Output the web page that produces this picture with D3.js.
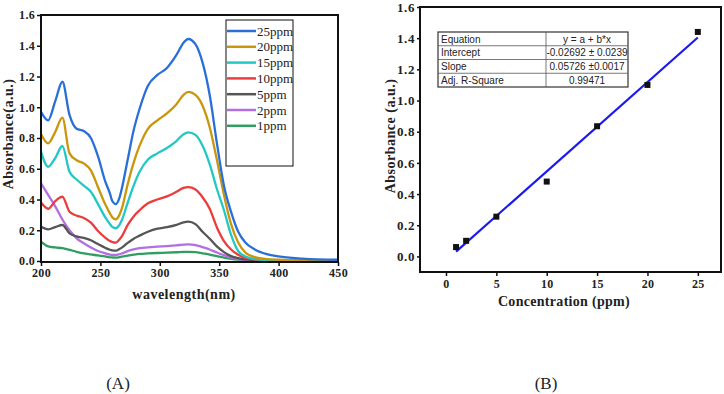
<!DOCTYPE html>
<html><head><meta charset="utf-8">
<script src="https://cdn.jsdelivr.net/npm/d3@7"></script>
<style>
body{margin:0;background:#fff;}
svg{display:block;}
.tk{font-family:"Liberation Serif","Times New Roman",serif;font-weight:bold;fill:#222;}
.tt{font-family:"Liberation Serif","Times New Roman",serif;font-weight:bold;fill:#222;}
</style>
</head><body>
<svg id="c" width="724" height="394"></svg>
<script>
// ---- Data: panel A (UV-Vis spectra) ----
const wavelengths = [200,206,212,218,224,230,236,242,248,254,258,260,263,266,268,273,278,283,290,298,306,314,320,324,330,336,342,348,354,360,366,372,380,390,400,420,450];
const abs25 = [0.97,0.915,1.04,1.166,0.95,0.86,0.845,0.80,0.68,0.52,0.44,0.39,0.37,0.41,0.47,0.66,0.85,0.99,1.14,1.21,1.255,1.34,1.42,1.444,1.41,1.29,1.08,0.77,0.49,0.32,0.19,0.12,0.075,0.045,0.03,0.016,0.008];
const abs20 = [0.826,0.765,0.84,0.932,0.70,0.655,0.635,0.59,0.48,0.37,0.31,0.285,0.271,0.30,0.34,0.50,0.64,0.75,0.86,0.915,0.96,1.02,1.08,1.10,1.08,1.01,0.87,0.66,0.43,0.24,0.12,0.055,0.025,0.012,0.008,0.005,0.004];
const abs15 = [0.711,0.613,0.67,0.748,0.58,0.53,0.49,0.45,0.37,0.285,0.24,0.222,0.213,0.235,0.265,0.38,0.49,0.58,0.66,0.70,0.735,0.78,0.825,0.837,0.82,0.75,0.63,0.47,0.33,0.17,0.065,0.03,0.013,0.007,0.005,0.004,0.004];
const abs10 = [0.38,0.34,0.39,0.418,0.32,0.295,0.28,0.25,0.195,0.152,0.13,0.123,0.12,0.14,0.16,0.235,0.29,0.33,0.375,0.40,0.42,0.45,0.475,0.48,0.465,0.415,0.34,0.22,0.13,0.075,0.04,0.02,0.01,0.006,0.005,0.004,0.004];
const abs5 = [0.223,0.206,0.22,0.234,0.18,0.16,0.15,0.135,0.11,0.086,0.073,0.069,0.067,0.078,0.087,0.118,0.145,0.165,0.19,0.21,0.22,0.235,0.252,0.256,0.24,0.19,0.145,0.095,0.058,0.032,0.018,0.01,0.006,0.004,0.004,0.003,0.003];
const abs2 = [0.505,0.43,0.355,0.27,0.2,0.147,0.115,0.088,0.065,0.05,0.042,0.04,0.039,0.044,0.049,0.064,0.075,0.083,0.088,0.093,0.097,0.102,0.107,0.108,0.104,0.09,0.075,0.055,0.038,0.022,0.012,0.007,0.004,0.003,0.003,0.003,0.003];
const abs1 = [0.126,0.095,0.088,0.083,0.072,0.06,0.05,0.043,0.036,0.03,0.024,0.023,0.022,0.025,0.028,0.035,0.041,0.046,0.049,0.052,0.054,0.057,0.06,0.06,0.058,0.05,0.042,0.032,0.022,0.014,0.009,0.006,0.004,0.003,0.003,0.003,0.003];
const seriesNames = ["25ppm","20ppm","15ppm","10ppm","5ppm","2ppm","1ppm"];
const seriesColors = ["#2a6fd8","#c9960e","#22c8c4","#ec3d3d","#555555","#b26fe0","#2f9e60"];
const seriesValues = [abs25,abs20,abs15,abs10,abs5,abs2,abs1];
const xTicksA = [200,250,300,350,400,450];
const yTicksA = [0.0,0.2,0.4,0.6,0.8,1.0,1.2,1.4,1.6];

// ---- Data: panel B (calibration) ----
const concentrations = [1,2,5,10,15,20,25];
const measured = [0.06,0.10,0.255,0.48,0.835,1.10,1.44];
const intercept = -0.02692, slope = 0.05726;
const fitRange = [1,25];
const xTicksB = [0,5,10,15,20,25];
const yTicksB = [0.0,0.2,0.4,0.6,0.8,1.0,1.2,1.4,1.6];
const tableRows = [["Equation","y = a + b*x"],["Intercept","-0.02692 \u00b1 0.0239"],["Slope","0.05726 \u00b10.0017"],["Adj. R-Square","0.99471"]];

const svg = d3.select("#c");

// ===== Panel A =====
const xA = d3.scaleLinear().domain([200,450]).range([41,338]);
const yA = d3.scaleLinear().domain([-0.0065,1.6]).range([262,15]);
const gA = svg.append("g");
const lineA = d3.line().x((d,i)=>xA(wavelengths[i])).y(d=>yA(d)).curve(d3.curveMonotoneX);
for (let k = seriesValues.length-1; k>=0; k--) {
  gA.append("path").datum(seriesValues[k]).attr("d",lineA)
    .attr("fill","none").attr("stroke",seriesColors[k]).attr("stroke-width",2.3).attr("stroke-linejoin","round");
}
gA.append("rect").attr("x",xA(200)).attr("y",yA(1.6)).attr("width",xA(450)-xA(200)).attr("height",yA(-0.0065)-yA(1.6))
  .attr("fill","none").attr("stroke","#111").attr("stroke-width",2);
const axA = gA.append("g").attr("transform",`translate(0,${yA(-0.0065)})`)
  .call(d3.axisBottom(xA).tickValues(xTicksA).tickSize(4).tickSizeOuter(0).tickPadding(4));
axA.select(".domain").remove();
axA.selectAll("line").attr("stroke","#111").attr("stroke-width",1.5);
axA.selectAll("text").attr("class","tk").style("font-size","12px").attr("dy","0.55em").style("letter-spacing","0.3px");
const ayA = gA.append("g").attr("transform",`translate(${xA(200)},0)`)
  .call(d3.axisLeft(yA).tickValues(yTicksA).tickFormat(d3.format(".1f")).tickSize(4).tickSizeOuter(0).tickPadding(2));
ayA.select(".domain").remove();
ayA.selectAll("line").attr("stroke","#111").attr("stroke-width",1.5);
ayA.selectAll("text").attr("class","tk").style("font-size","12px").style("letter-spacing","0.3px");
gA.append("text").attr("class","tt").attr("x",184).attr("y",299).attr("text-anchor","middle")
  .style("font-size","14px").style("letter-spacing","0.5px").text("wavelength(nm)");
gA.append("text").attr("class","tt").attr("transform","translate(13,134) rotate(-90)").attr("text-anchor","middle")
  .style("font-size","14px").style("letter-spacing","0.5px").text("Absorbance(a.u.)");
const leg = gA.append("g");
leg.append("rect").attr("x",226).attr("y",20).attr("width",67).attr("height",146).attr("fill","#fff").attr("stroke","#111").attr("stroke-width",1);
seriesNames.forEach((n,i)=>{
  const cy = 31 + i*15.8;
  leg.append("line").attr("x1",227).attr("x2",256).attr("y1",cy).attr("y2",cy).attr("stroke",seriesColors[i]).attr("stroke-width",2.5);
  leg.append("text").attr("x",257).attr("y",cy+4.5).style("font-family","'Liberation Serif',serif").style("font-size","13px").attr("fill","#222").text(n);
});
svg.append("text").attr("x",118).attr("y",389).attr("text-anchor","middle").style("font-family","'Liberation Serif',serif").style("font-size","17px").attr("fill","#222").text("(A)");

// ===== Panel B =====
const xB = d3.scaleLinear().domain([-2.58,27.3]).range([420,721]);
const yB = d3.scaleLinear().domain([-0.1,1.6]).range([272,7]);
const gB = svg.append("g");
gB.append("rect").attr("x",xB(-2.58)).attr("y",yB(1.6)).attr("width",xB(27.3)-xB(-2.58)).attr("height",yB(-0.1)-yB(1.6))
  .attr("fill","none").attr("stroke","#111").attr("stroke-width",2);
const axB = gB.append("g").attr("transform",`translate(0,${yB(-0.1)})`)
  .call(d3.axisBottom(xB).tickValues(xTicksB).tickSize(4).tickSizeOuter(0).tickPadding(5));
axB.select(".domain").remove();
axB.selectAll("line").attr("stroke","#111").attr("stroke-width",1.5);
axB.selectAll("text").attr("class","tk").style("font-size","12px").attr("dy","0.6em").style("letter-spacing","0.3px");
const ayB = gB.append("g").attr("transform",`translate(${xB(-2.58)},0)`)
  .call(d3.axisLeft(yB).tickValues(yTicksB).tickFormat(d3.format(".1f")).tickSize(3).tickSizeOuter(0).tickPadding(2));
ayB.select(".domain").remove();
ayB.selectAll("line").attr("stroke","#111").attr("stroke-width",1.5);
ayB.selectAll("text").attr("class","tk").style("font-size","13px").style("letter-spacing","0.6px");
gB.append("text").attr("class","tt").attr("x",564).attr("y",306).attr("text-anchor","middle")
  .style("font-size","14px").style("letter-spacing","0.3px").text("Concentration (ppm)");
gB.append("text").attr("class","tt").attr("transform","translate(395,136) rotate(-90)").attr("text-anchor","middle")
  .style("font-size","14px").style("letter-spacing","0.5px").text("Absorbance (a.u.)");
gB.append("line").attr("x1",xB(fitRange[0])).attr("y1",yB(intercept+slope*fitRange[0]))
  .attr("x2",xB(fitRange[1])).attr("y2",yB(intercept+slope*fitRange[1]))
  .attr("stroke","#1a1aee").attr("stroke-width",2.2);
gB.selectAll("rect.pt").data(concentrations).enter().append("rect").attr("class","pt")
  .attr("x",(d)=>xB(d)-3).attr("y",(d,i)=>yB(measured[i])-3).attr("width",6).attr("height",6).attr("fill","#111");
const tx0 = 438, tx1 = 628, tcol = 546, ty0 = 32, rh = 13.75;
const tg = gB.append("g");
tg.append("rect").attr("x",tx0).attr("y",ty0).attr("width",tx1-tx0).attr("height",rh*4).attr("fill","#fff").attr("stroke","#333").attr("stroke-width",1.2);
for (let r=1;r<4;r++) tg.append("line").attr("x1",tx0).attr("x2",tx1).attr("y1",ty0+r*rh).attr("y2",ty0+r*rh).attr("stroke","#555").attr("stroke-width",0.8);
tg.append("line").attr("x1",tcol).attr("x2",tcol).attr("y1",ty0).attr("y2",ty0+4*rh).attr("stroke","#555").attr("stroke-width",0.8);
tableRows.forEach((row,r)=>{
  tg.append("text").attr("x",tx0+3).attr("y",ty0+r*rh+10.5).style("font-family","'Liberation Sans',Arial,sans-serif").style("font-size","10px").attr("fill","#222").text(row[0]);
  tg.append("text").attr("x",(tcol+tx1)/2).attr("y",ty0+r*rh+10.5).attr("text-anchor","middle").style("font-family","'Liberation Sans',Arial,sans-serif").style("font-size","10px").attr("fill","#222").text(row[1]);
});
svg.append("text").attr("x",546).attr("y",389).attr("text-anchor","middle").style("font-family","'Liberation Serif',serif").style("font-size","17px").attr("fill","#222").text("(B)");
</script>
</body></html>
